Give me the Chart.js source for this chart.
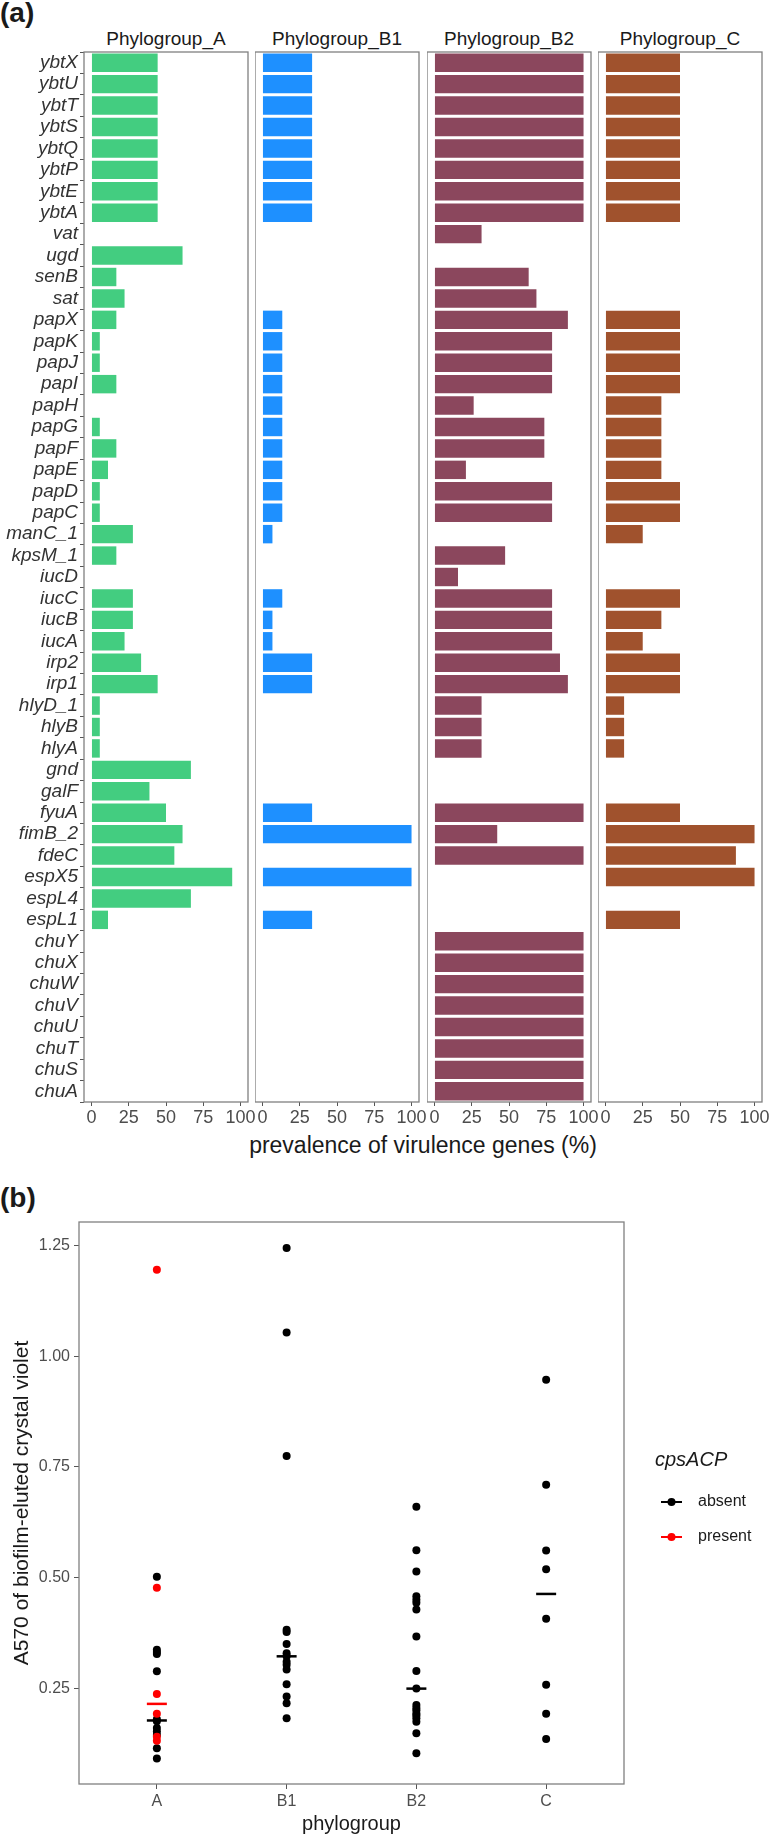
<!DOCTYPE html>
<html>
<head>
<meta charset="utf-8">
<script src="https://cdn.jsdelivr.net/npm/chart.js@4.4.1/dist/chart.umd.min.js"></script>
<style>
body { margin: 0; background: #fff; font-family: Arial, "Liberation Sans", sans-serif; }
#page { position: relative; width: 770px; height: 1836px; overflow: hidden; background: #fff; }
#page canvas { position: absolute; }
.lbl { position: absolute; color: #1a1a1a; white-space: nowrap; }
.strip { font-size: 19px; line-height: 22px; top: 28px; width: 164px; text-align: center; }
</style>
</head>
<body>
<div id="page">
  <div class="lbl" style="left:0;top:-4px;font-size:28px;line-height:34px;font-weight:bold">(a)</div>
  <div class="lbl strip" style="left:84px">Phylogroup_A</div>
  <div class="lbl strip" style="left:255px">Phylogroup_B1</div>
  <div class="lbl strip" style="left:427px">Phylogroup_B2</div>
  <div class="lbl strip" style="left:598px">Phylogroup_C</div>
  <div class="lbl" style="left:84px;width:678px;top:1131px;font-size:23px;line-height:28px;text-align:center">prevalence of virulence genes (%)</div>
  <div class="lbl" style="left:0;top:1181px;font-size:28px;line-height:34px;font-weight:bold">(b)</div>
</div>
<script>
const FONT = 'Arial, "Liberation Sans", sans-serif';

// panel (a): prevalence (%) per gene and phylogroup
const genes = ['ybtX', 'ybtU', 'ybtT', 'ybtS', 'ybtQ', 'ybtP', 'ybtE', 'ybtA', 'vat', 'ugd', 'senB', 'sat',
  'papX', 'papK', 'papJ', 'papI', 'papH', 'papG', 'papF', 'papE', 'papD', 'papC', 'manC_1', 'kpsM_1',
  'iucD', 'iucC', 'iucB', 'iucA', 'irp2', 'irp1', 'hlyD_1', 'hlyB', 'hlyA', 'gnd', 'galF', 'fyuA',
  'fimB_2', 'fdeC', 'espX5', 'espL4', 'espL1', 'chuY', 'chuX', 'chuW', 'chuV', 'chuU', 'chuT', 'chuS', 'chuA'];

const prevA = [44.4, 44.4, 44.4, 44.4, 44.4, 44.4, 44.4, 44.4, 0, 61.1, 16.7, 22.2,
  16.7, 5.6, 5.6, 16.7, 0, 5.6, 16.7, 11.1, 5.6, 5.6, 27.8, 16.7,
  0, 27.8, 27.8, 22.2, 33.3, 44.4, 5.6, 5.6, 5.6, 66.7, 38.9, 50.0,
  61.1, 55.6, 94.4, 66.7, 11.1, 0, 0, 0, 0, 0, 0, 0, 0];
const prevB1 = [33.3, 33.3, 33.3, 33.3, 33.3, 33.3, 33.3, 33.3, 0, 0, 0, 0,
  13.3, 13.3, 13.3, 13.3, 13.3, 13.3, 13.3, 13.3, 13.3, 13.3, 6.7, 0,
  0, 13.3, 6.7, 6.7, 33.3, 33.3, 0, 0, 0, 0, 0, 33.3,
  100, 0, 100, 0, 33.3, 0, 0, 0, 0, 0, 0, 0, 0];
const prevB2 = [100, 100, 100, 100, 100, 100, 100, 100, 31.6, 0, 63.2, 68.4,
  89.5, 78.9, 78.9, 78.9, 26.3, 73.7, 73.7, 21.1, 78.9, 78.9, 0, 47.4,
  15.8, 78.9, 78.9, 78.9, 84.2, 89.5, 31.6, 31.6, 31.6, 0, 0, 100,
  42.1, 100, 0, 0, 0, 100, 100, 100, 100, 100, 100, 100, 100];
const prevC = [50, 50, 50, 50, 50, 50, 50, 50, 0, 0, 0, 0,
  50, 50, 50, 50, 37.5, 37.5, 37.5, 37.5, 50, 50, 25, 0,
  0, 50, 37.5, 25, 50, 50, 12.5, 12.5, 12.5, 0, 0, 50,
  100, 87.5, 100, 0, 50, 0, 0, 0, 0, 0, 0, 0, 0];
const prevTicks = [0, 25, 50, 75, 100];

// panel (b): A570 per strain, split by cpsACP
const phylogroups = ['A', 'B1', 'B2', 'C'];
const absentA = [0.502, 0.337, 0.332, 0.327, 0.288, 0.180, 0.175, 0.160, 0.152, 0.144, 0.114, 0.091];
const presentA = [1.196, 0.477, 0.237, 0.192, 0.140, 0.131];
const absentB1 = [1.245, 1.054, 0.775, 0.382, 0.377, 0.350, 0.329, 0.322, 0.310, 0.303, 0.292, 0.259, 0.231, 0.216, 0.182];
const absentB2 = [0.660, 0.562, 0.514, 0.458, 0.450, 0.443, 0.428, 0.367, 0.289, 0.249, 0.212, 0.205, 0.200, 0.193, 0.188, 0.182, 0.174, 0.148, 0.103];
const absentC = [0.947, 0.710, 0.561, 0.519, 0.407, 0.258, 0.192, 0.135];
const medianAbsent = [0.177, 0.322, 0.249, 0.463];
const medianPresent = [0.2145, null, null, null];
const a570Ticks = [0.25, 0.50, 0.75, 1.00, 1.25];

const page = document.getElementById('page');

function addCanvas(left, top, w, h) {
  const cv = document.createElement('canvas');
  cv.width = w; cv.height = h;
  cv.style.left = left + 'px'; cv.style.top = top + 'px';
  cv.style.width = w + 'px'; cv.style.height = h + 'px';
  page.appendChild(cv);
  return cv;
}

// grey frame around the plotting area, like ggplot's panel border
const panelBox = {
  id: 'panelBox',
  afterDatasetsDraw(chart) {
    const a = chart.chartArea, ctx = chart.ctx;
    ctx.save();
    ctx.strokeStyle = '#808080';
    ctx.lineWidth = 1.3;
    ctx.strokeRect(a.left, a.top, a.right - a.left, a.bottom - a.top);
    ctx.restore();
  }
};

const panels = [
  { values: prevA, color: '#43CD80', left: 84, right: 248 },
  { values: prevB1, color: '#1E90FF', left: 255, right: 419 },
  { values: prevB2, color: '#8B475D', left: 427, right: 591 },
  { values: prevC, color: '#A0522D', left: 598, right: 762 }
];

panels.forEach((p, i) => {
  const showY = i === 0;
  const yW = showY ? 84 : 0;
  const padT = 14, padR = 12, xH = 34;
  const w = (p.right - p.left) + yW + padR;
  const h = padT + 1050 + xH;
  const cv = addCanvas(p.left - yW, 52 - padT, w, h);
  new Chart(cv, {
    type: 'bar',
    data: {
      labels: genes,
      datasets: [{ data: p.values, backgroundColor: p.color, borderWidth: 0, barPercentage: 0.86, categoryPercentage: 1 }]
    },
    options: {
      indexAxis: 'y',
      responsive: false,
      animation: false,
      devicePixelRatio: 1,
      layout: { padding: { top: padT, right: padR, left: 0, bottom: 0 } },
      plugins: { legend: { display: false }, tooltip: { enabled: false } },
      scales: {
        x: {
          type: 'linear', min: -5, max: 105,
          afterBuildTicks: s => { s.ticks = prevTicks.map(v => ({ value: v })); },
          afterFit: s => { s.height = xH; },
          grid: { drawOnChartArea: false, drawTicks: true, tickLength: 4, color: '#555' },
          border: { display: false },
          ticks: { font: { size: 18, family: FONT }, color: '#4d4d4d', padding: 1, maxRotation: 0, autoSkip: false }
        },
        y: {
          display: showY,
          afterFit: s => { s.width = yW; },
          grid: { drawOnChartArea: false, drawTicks: true, tickLength: 4, color: '#555' },
          border: { display: false },
          ticks: { font: { size: 19, style: 'italic', family: FONT }, color: '#333', padding: 2, autoSkip: false }
        }
      }
    },
    plugins: [panelBox]
  });
});

// panel (b)
function pts(groupIdx, values) {
  return values.map(v => ({ x: groupIdx + 1, y: v }));
}
const absentPts = [].concat(pts(0, absentA), pts(1, absentB1), pts(2, absentB2), pts(3, absentC));
const presentPts = pts(0, presentA);
const medAbsPts = medianAbsent.map((v, i) => ({ x: i + 1, y: v })).filter(d => d.y !== null);
const medPresPts = medianPresent.map((v, i) => ({ x: i + 1, y: v })).filter(d => d.y !== null);

const legendKeys = [
  { label: 'absent', color: '#000000' },
  { label: 'present', color: '#FF0000' }
];

const cpsLegend = {
  id: 'cpsLegend',
  afterDraw(chart) {
    const ctx = chart.ctx;
    const off = 1208; // canvas top on the page
    ctx.save();
    ctx.fillStyle = '#1a1a1a';
    ctx.textBaseline = 'middle';
    ctx.font = 'italic 20px ' + FONT;
    ctx.fillText('cpsACP', 655, 1460 - off);
    legendKeys.forEach((k, i) => {
      const y = 1502 + i * 35 - off;
      ctx.strokeStyle = k.color;
      ctx.lineWidth = 2;
      ctx.beginPath(); ctx.moveTo(661, y); ctx.lineTo(682, y); ctx.stroke();
      ctx.fillStyle = k.color;
      ctx.beginPath(); ctx.arc(671.5, y, 4, 0, Math.PI * 2); ctx.fill();
      ctx.fillStyle = '#1a1a1a';
      ctx.font = '16px ' + FONT;
      ctx.fillText(k.label, 698, y);
    });
    ctx.restore();
  }
};

const bCv = addCanvas(0, 1208, 770, 628);
new Chart(bCv, {
  type: 'scatter',
  data: {
    datasets: [
      { label: 'present', data: presentPts, backgroundColor: '#FF0000', borderWidth: 0, pointRadius: 4 },
      { label: 'absent', data: absentPts, backgroundColor: '#000000', borderWidth: 0, pointRadius: 4 },
      { label: 'median present', data: medPresPts, pointStyle: 'line', pointRadius: 10, pointBorderWidth: 2.5, borderColor: '#FF0000', backgroundColor: '#FF0000' },
      { label: 'median absent', data: medAbsPts, pointStyle: 'line', pointRadius: 10, pointBorderWidth: 2.5, borderColor: '#000000', backgroundColor: '#000000' }
    ]
  },
  options: {
    responsive: false,
    animation: false,
    devicePixelRatio: 1,
    layout: { padding: { top: 14, right: 146, left: 0, bottom: 0 } },
    plugins: { legend: { display: false }, tooltip: { enabled: false } },
    scales: {
      x: {
        type: 'linear', min: 0.4, max: 4.6,
        afterBuildTicks: s => { s.ticks = phylogroups.map((g, i) => ({ value: i + 1 })); },
        afterFit: s => { s.height = 52; },
        grid: { drawOnChartArea: false, drawTicks: true, tickLength: 5, color: '#555' },
        border: { display: false },
        ticks: { callback: v => phylogroups[v - 1], font: { size: 16, family: FONT }, color: '#4d4d4d', padding: 3, maxRotation: 0, autoSkip: false },
        title: { display: true, text: 'phylogroup', font: { size: 20, family: FONT }, color: '#1a1a1a', padding: { top: 0, bottom: 0 } }
      },
      y: {
        min: 0.0334, max: 1.3037,
        afterBuildTicks: s => { s.ticks = a570Ticks.map(v => ({ value: v })); },
        afterFit: s => { s.width = 79; },
        grid: { drawOnChartArea: false, drawTicks: true, tickLength: 5, color: '#555' },
        border: { display: false },
        ticks: { callback: v => v.toFixed(2), font: { size: 16, family: FONT }, color: '#4d4d4d', padding: 4 },
        title: { display: true, text: 'A570 of biofilm-eluted crystal violet', font: { size: 21, family: FONT }, color: '#1a1a1a', padding: { top: 10, bottom: 0 } }
      }
    }
  },
  plugins: [panelBox, cpsLegend]
});
</script>
</body>
</html>
